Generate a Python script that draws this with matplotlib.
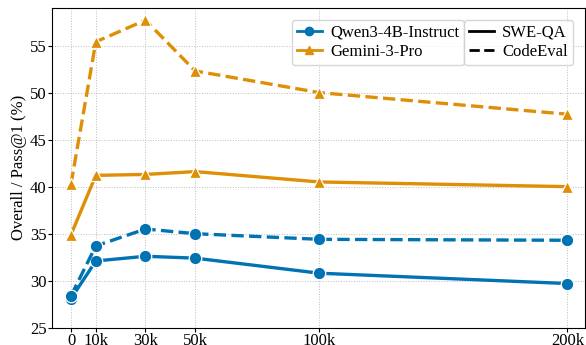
import matplotlib.pyplot as plt
from matplotlib.lines import Line2D

plt.rcParams['font.family'] = ['Liberation Serif', 'DejaVu Serif']

# context sizes in thousands of tokens
context_k = [0, 10, 30, 50, 100, 200]
tick_labels = ['0', '10k', '30k', '50k', '100k', '200k']

qwen_swe = [28.1, 32.1, 32.6, 32.4, 30.8, 29.7]
qwen_code = [28.4, 33.7, 35.5, 35.0, 34.4, 34.3]
gemini_swe = [34.9, 41.2, 41.3, 41.6, 40.5, 40.0]
gemini_code = [40.3, 55.4, 57.7, 52.3, 50.0, 47.7]

BLUE = '#0173b2'
ORANGE = '#de8f05'

fig, ax = plt.subplots(figsize=(5.86, 3.45), dpi=100)
fig.subplots_adjust(left=0.089, right=0.998, top=0.977, bottom=0.05)

kw = dict(lw=2.4, markersize=9, markeredgecolor='white', markeredgewidth=0.9)
ax.plot(context_k, qwen_swe, color=BLUE, marker='o', ls='-', **kw)
ax.plot(context_k, qwen_code, color=BLUE, marker='o', ls='--', **kw)
ax.plot(context_k, gemini_swe, color=ORANGE, marker='^', ls='-', **kw)
ax.plot(context_k, gemini_code, color=ORANGE, marker='^', ls='--', **kw)

ax.set_xlim(-7.6, 207)
ax.set_ylim(25, 59)
ax.set_xticks(context_k)
ax.set_xticklabels(tick_labels)
ax.set_yticks([25, 30, 35, 40, 45, 50, 55])
ax.tick_params(labelsize=12, length=3, pad=1)
ax.set_ylabel('Overall / Pass@1 (%)', fontsize=12, labelpad=2)
ax.grid(True, ls=':', color='#bbbbbb', lw=0.7)

leg_kw = dict(loc='upper left', fontsize=12, handlelength=1.5,
              handletextpad=0.5, borderpad=0.3, labelspacing=0.2,
              borderaxespad=0, framealpha=0.8, edgecolor='#cccccc')
model_handles = [
    Line2D([], [], color=BLUE, marker='o', lw=2, markersize=6),
    Line2D([], [], color=ORANGE, marker='^', lw=2, markersize=6),
]
leg1 = ax.legend(model_handles, ['Qwen3-4B-Instruct', 'Gemini-3-Pro'],
                 bbox_to_anchor=(0.450, 0.9625), **leg_kw)
ax.add_artist(leg1)
style_handles = [
    Line2D([], [], color='black', ls='-', lw=2),
    Line2D([], [], color='black', ls='--', lw=2),
]
ax.legend(style_handles, ['SWE-QA', 'CodeEval'],
          bbox_to_anchor=(0.773, 0.9625), **leg_kw)

fig.savefig('out.png')
